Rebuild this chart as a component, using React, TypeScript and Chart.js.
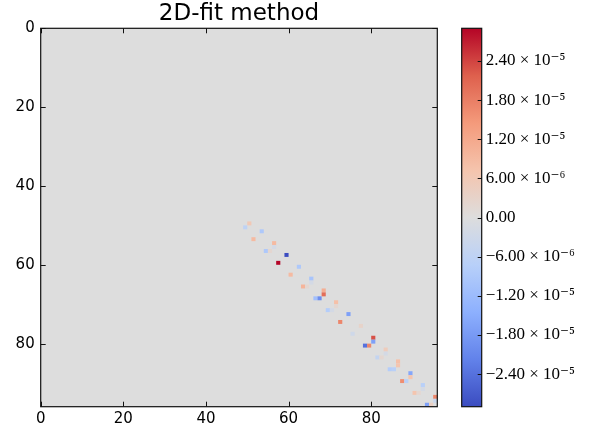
import React, { useEffect, useRef } from 'react';
import { Chart, registerables } from 'chart.js';

Chart.register(...registerables);

// ---------- data ----------
const gridSize = 96;
const axisTicks = [0, 20, 40, 60, 80];
const titleText = '2D-fit method';

const colorbarMin = -2.9e-5;
const colorbarMax = 2.9e-5;
const colorbarTicks = [-2.4e-5, -1.8e-5, -1.2e-5, -6e-6, 0, 6e-6, 1.2e-5, 1.8e-5, 2.4e-5];
const colorbarTickLabels = [
  '−2.40 × 10⁻⁵',
  '−1.80 × 10⁻⁵',
  '−1.20 × 10⁻⁵',
  '−6.00 × 10⁻⁶',
  '0.00',
  '6.00 × 10⁻⁶',
  '1.20 × 10⁻⁵',
  '1.80 × 10⁻⁵',
  '2.40 × 10⁻⁵',
];

// non-zero cells of the matrix (row, column, value)
const cellRows = [49, 50, 51, 53, 54, 56, 55, 56, 57, 59, 60, 62, 63, 65, 64, 65, 66, 67, 68, 68, 69, 71, 70, 71, 72, 74, 75, 77, 78, 79, 80, 80, 81, 83, 82, 83, 84, 85, 86, 86, 87, 88, 89, 89, 90, 92, 91, 92, 93, 94, 95, 95];
const cellCols = [50, 49, 53, 51, 56, 54, 56, 55, 59, 57, 62, 60, 65, 63, 65, 64, 68, 68, 66, 67, 71, 69, 71, 70, 74, 72, 77, 75, 80, 80, 78, 79, 83, 81, 83, 82, 86, 86, 84, 85, 89, 89, 87, 88, 92, 90, 92, 91, 95, 95, 93, 94];
const cellValues = [
  6e-6, -6e-6, -9e-6, 9e-6, 9e-6, -9e-6, -2e-6, 2e-6,
  -2.9e-5, 2.9e-5, -9e-6, 9e-6, -1.0e-5, 1.0e-5, -2e-6, 2e-6,
  1.1e-5, 2.0e-5, -1.1e-5, -2.0e-5, 8e-6, -8e-6, 2e-6, -2e-6,
  -1.7e-5, 1.7e-5, 3e-6, -3e-6, 2.3e-5, -1.7e-5, -2.4e-5, 1.7e-5,
  5e-6, -5e-6, -2e-6, 2e-6, 8e-6, 7e-6, -8e-6, -7e-6,
  -1.6e-5, 7e-6, 1.6e-5, -7e-6, -7e-6, 7e-6, -2e-6, 2e-6,
  1.7e-5, -4e-6, -1.7e-5, 4e-6,
];

// ---------- style ----------
const coolwarmStops: [number, number[]][] = [
  [0.0, [59, 76, 192]],
  [0.125, [98, 130, 234]],
  [0.25, [141, 176, 254]],
  [0.375, [184, 208, 249]],
  [0.5, [221, 221, 221]],
  [0.625, [245, 196, 173]],
  [0.75, [244, 154, 123]],
  [0.875, [222, 96, 77]],
  [1.0, [180, 4, 38]],
];

function colormap(t: number): string {
  const tt = Math.max(0, Math.min(1, t));
  for (let i = 1; i < coolwarmStops.length; i++) {
    const [t1, c1] = coolwarmStops[i];
    const [t0, c0] = coolwarmStops[i - 1];
    if (tt <= t1) {
      const f = (tt - t0) / (t1 - t0);
      const c = c0.map((v, k) => Math.round(v + (c1[k] - v) * f));
      return `rgb(${c[0]},${c[1]},${c[2]})`;
    }
  }
  const c = coolwarmStops[coolwarmStops.length - 1][1];
  return `rgb(${c[0]},${c[1]},${c[2]})`;
}

function colorFor(v: number): string {
  return colormap((v - colorbarMin) / (colorbarMax - colorbarMin));
}

const sansFont = "'DejaVu Sans', sans-serif";
const serifFont = "'Liberation Serif', 'DejaVu Serif', serif";
const TICK_LEN = 5;

const heatmapPlugin = {
  id: 'heatmap',
  beforeDatasetsDraw(chart: any) {
    const { ctx } = chart;
    const x = chart.scales.x;
    const y = chart.scales.y;
    ctx.save();
    const bx0 = x.getPixelForValue(0);
    const bx1 = x.getPixelForValue(gridSize);
    const by0 = y.getPixelForValue(0);
    const by1 = y.getPixelForValue(gridSize);
    ctx.fillStyle = colorFor(0);
    ctx.fillRect(Math.min(bx0, bx1), Math.min(by0, by1), Math.abs(bx1 - bx0), Math.abs(by1 - by0));
    const data = chart.data.datasets[0].data as any[];
    data.forEach((p) => {
      const l = x.getPixelForValue(p.col);
      const r = x.getPixelForValue(p.col + 1);
      const t = y.getPixelForValue(p.row);
      const b = y.getPixelForValue(p.row + 1);
      ctx.fillStyle = colorFor(p.v);
      ctx.fillRect(Math.min(l, r), Math.min(t, b), Math.abs(r - l), Math.abs(b - t));
    });
    ctx.restore();
  },
  afterDraw(chart: any) {
    const { ctx, chartArea: a } = chart;
    const x = chart.scales.x;
    const y = chart.scales.y;
    ctx.save();
    ctx.strokeStyle = '#111';
    ctx.lineWidth = 1;
    ctx.beginPath();
    axisTicks.forEach((v) => {
      const px = Math.round(x.getPixelForValue(v)) + 0.5;
      ctx.moveTo(px, a.top);
      ctx.lineTo(px, a.top + TICK_LEN);
      ctx.moveTo(px, a.bottom);
      ctx.lineTo(px, a.bottom - TICK_LEN);
      const py = Math.round(y.getPixelForValue(v)) + 0.5;
      ctx.moveTo(a.left, py);
      ctx.lineTo(a.left + TICK_LEN, py);
      ctx.moveTo(a.right, py);
      ctx.lineTo(a.right - TICK_LEN, py);
    });
    ctx.stroke();
    ctx.lineWidth = 1.2;
    ctx.strokeRect(a.left, a.top, a.right - a.left, a.bottom - a.top);
    ctx.restore();
  },
};

const colorbarPlugin = {
  id: 'colorbarTicks',
  afterDraw(chart: any) {
    const { ctx, chartArea: a } = chart;
    const y = chart.scales.y;
    ctx.save();
    ctx.strokeStyle = '#111';
    ctx.lineWidth = 1;
    ctx.beginPath();
    colorbarTicks.forEach((v) => {
      const py = Math.round(y.getPixelForValue(v)) + 0.5;
      ctx.moveTo(a.right, py);
      ctx.lineTo(a.right - 4, py);
    });
    ctx.stroke();
    ctx.lineWidth = 1.2;
    ctx.strokeRect(a.left, a.top, a.right - a.left, a.bottom - a.top);
    ctx.restore();
  },
};

export default function App() {
  const mainRef = useRef<HTMLCanvasElement>(null);
  const cbRef = useRef<HTMLCanvasElement>(null);

  useEffect(() => {
    if (!mainRef.current || !cbRef.current) return;

    const points = cellRows.map((r, i) => ({
      x: cellCols[i] + 0.5,
      y: r + 0.5,
      row: r,
      col: cellCols[i],
      v: cellValues[i],
    }));

    const main = new Chart(mainRef.current, {
      type: 'scatter',
      data: {
        datasets: [
          {
            data: points as any,
            pointRadius: 0,
            pointHoverRadius: 0,
          },
        ],
      },
      options: {
        animation: false,
        responsive: false,
        events: [],
        layout: { padding: { left: 0, right: 157.7, top: 0, bottom: 0 } },
        plugins: {
          legend: { display: false },
          tooltip: { enabled: false },
          title: {
            display: true,
            fullSize: false,
            text: titleText,
            color: '#000',
            font: { family: sansFont, size: 23, weight: 'normal' as any, lineHeight: 1.2 },
            padding: { top: 0.7, bottom: 0 },
          },
        },
        scales: {
          x: {
            type: 'linear',
            min: 0,
            max: gridSize,
            position: 'bottom',
            grid: { display: false, drawTicks: false },
            border: { display: false },
            afterBuildTicks: (s: any) => {
              s.ticks = axisTicks.map((v) => ({ value: v }));
            },
            afterFit: (s: any) => {
              s.height = 23.3;
            },
            ticks: {
              color: '#000',
              padding: 3,
              maxRotation: 0,
              font: { family: sansFont, size: 15 },
              callback: (v: any) => String(v),
            },
          },
          y: {
            type: 'linear',
            min: 0,
            max: gridSize,
            reverse: true,
            position: 'left',
            grid: { display: false, drawTicks: false },
            border: { display: false },
            afterBuildTicks: (s: any) => {
              s.ticks = axisTicks.map((v) => ({ value: v }));
            },
            afterFit: (s: any) => {
              s.width = 40.7;
            },
            ticks: {
              color: '#000',
              padding: 6,
              font: { family: sansFont, size: 15 },
              callback: (v: any) => String(v),
            },
          },
        },
      },
      plugins: [heatmapPlugin],
    });

    const cb = new Chart(cbRef.current, {
      type: 'bar',
      data: {
        labels: ['colorbar'],
        datasets: [
          {
            data: [[colorbarMin, colorbarMax]] as any,
            barPercentage: 1,
            categoryPercentage: 1,
            borderWidth: 0,
            backgroundColor: (ctx: any) => {
              const chart = ctx.chart;
              const ys = chart.scales.y;
              if (!chart.chartArea || !ys) return colorFor(0);
              const top = ys.getPixelForValue(colorbarMax);
              const bot = ys.getPixelForValue(colorbarMin);
              const g = chart.ctx.createLinearGradient(0, bot, 0, top);
              coolwarmStops.forEach(([t]) => {
                g.addColorStop(t, colormap(t));
              });
              return g;
            },
          },
        ],
      },
      options: {
        animation: false,
        responsive: false,
        events: [],
        layout: { padding: { left: 21.7, right: 0, top: 28.3, bottom: 23.3 } },
        plugins: {
          legend: { display: false },
          tooltip: { enabled: false },
          title: { display: false },
        },
        scales: {
          x: { display: false },
          y: {
            type: 'linear',
            min: colorbarMin,
            max: colorbarMax,
            position: 'right',
            grid: { display: false, drawTicks: false },
            border: { display: false },
            afterBuildTicks: (s: any) => {
              s.ticks = colorbarTicks.map((v) => ({ value: v }));
            },
            afterFit: (s: any) => {
              s.width = 113.3;
            },
            ticks: {
              color: '#000',
              padding: 4,
              font: { family: serifFont, size: 17 },
              callback: (v: any) => {
                const i = colorbarTicks.findIndex((t) => Math.abs(t - Number(v)) < 1e-9);
                return i >= 0 ? colorbarTickLabels[i] : '';
              },
            },
          },
        },
      },
      plugins: [colorbarPlugin],
    });

    return () => {
      main.destroy();
      cb.destroy();
    };
  }, []);

  return (
    <div style={{ position: 'fixed', left: 0, top: 0, width: 595, height: 430, background: '#fff' }}>
      <canvas
        ref={mainRef}
        width={595}
        height={430}
        style={{ position: 'absolute', left: 0, top: 0, width: 595, height: 430 }}
      />
      <canvas
        ref={cbRef}
        width={155}
        height={430}
        style={{ position: 'absolute', left: 440, top: 0, width: 155, height: 430 }}
      />
    </div>
  );
}
